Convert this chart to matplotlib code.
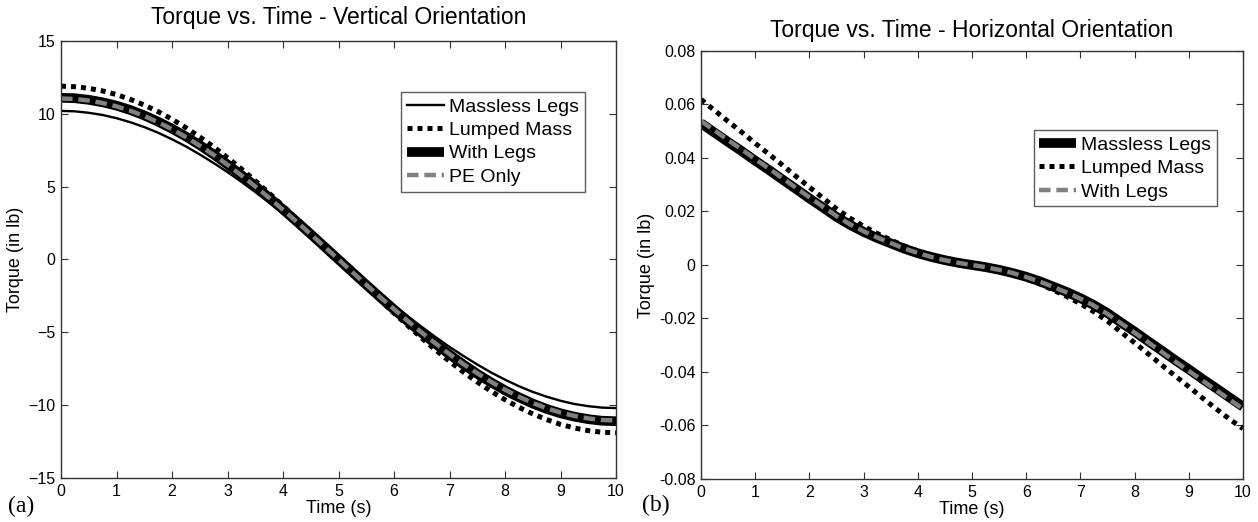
import matplotlib
matplotlib.use("Agg")
import matplotlib.pyplot as plt
from matplotlib.ticker import FuncFormatter

plt.rcParams['font.family'] = ['Liberation Sans', 'DejaVu Sans']

# time samples (s)
time_s = [0.0, 0.25, 0.5, 0.75, 1.0, 1.25, 1.5, 1.75, 2.0, 2.25, 2.5, 2.75, 3.0, 3.25, 3.5, 3.75,
          4.0, 4.25, 4.5, 4.75, 5.0, 5.25, 5.5, 5.75, 6.0, 6.25, 6.5, 6.75, 7.0, 7.25, 7.5, 7.75,
          8.0, 8.25, 8.5, 8.75, 9.0, 9.25, 9.5, 9.75, 10.0]

# Vertical orientation (in lb)
vert_massless = [10.20, 10.17, 10.07, 9.92, 9.70, 9.42, 9.09, 8.70, 8.25, 7.76, 7.21, 6.62, 6.00, 5.33,
                 4.63, 3.90, 3.15, 2.38, 1.60, 0.80, 0.0, -0.80, -1.60, -2.38, -3.15, -3.90, -4.63,
                 -5.33, -6.00, -6.62, -7.21, -7.76, -8.25, -8.70, -9.09, -9.42, -9.70, -9.92, -10.07,
                 -10.17, -10.20]
vert_lumped = [11.90, 11.86, 11.75, 11.57, 11.32, 10.99, 10.60, 10.15, 9.63, 9.05, 8.41, 7.73, 6.99, 6.22,
               5.40, 4.55, 3.68, 2.78, 1.86, 0.93, 0.0, -0.93, -1.86, -2.78, -3.68, -4.55, -5.40,
               -6.22, -6.99, -7.73, -8.41, -9.05, -9.63, -10.15, -10.60, -10.99, -11.32, -11.57, -11.75,
               -11.86, -11.90]
vert_withlegs = [11.10, 11.07, 10.96, 10.79, 10.56, 10.26, 9.89, 9.46, 8.98, 8.44, 7.85, 7.21, 6.52, 5.80,
                 5.04, 4.25, 3.43, 2.59, 1.74, 0.87, 0.0, -0.87, -1.74, -2.59, -3.43, -4.25, -5.04,
                 -5.80, -6.52, -7.21, -7.85, -8.44, -8.98, -9.46, -9.89, -10.26, -10.56, -10.79, -10.96,
                 -11.07, -11.10]
vert_pe = [11.05, 11.02, 10.91, 10.74, 10.51, 10.21, 9.85, 9.42, 8.94, 8.40, 7.81, 7.18, 6.50, 5.77,
           5.02, 4.23, 3.41, 2.58, 1.73, 0.87, 0.0, -0.87, -1.73, -2.58, -3.41, -4.23, -5.02,
           -5.77, -6.50, -7.18, -7.81, -8.40, -8.94, -9.42, -9.85, -10.21, -10.51, -10.74, -10.91,
           -11.02, -11.05]

# Horizontal orientation (in lb)
horz_massless = [0.0530, 0.0495, 0.0460, 0.0426, 0.0390, 0.0356, 0.0320, 0.0285, 0.0249, 0.0215, 0.0180,
                 0.0150, 0.0124, 0.0101, 0.0081, 0.0061, 0.0044, 0.0030, 0.0018, 0.0008, 0.0,
                 -0.0008, -0.0018, -0.0030, -0.0044, -0.0061, -0.0081, -0.0101, -0.0124, -0.0150,
                 -0.0180, -0.0215, -0.0249, -0.0285, -0.0320, -0.0356, -0.0390, -0.0426, -0.0460,
                 -0.0495, -0.0530]
horz_lumped = [0.0619, 0.0578, 0.0537, 0.0497, 0.0455, 0.0415, 0.0374, 0.0332, 0.0291, 0.0251, 0.0210,
               0.0175, 0.0145, 0.0118, 0.0094, 0.0071, 0.0052, 0.0035, 0.0021, 0.0009, 0.0,
               -0.0009, -0.0021, -0.0035, -0.0052, -0.0071, -0.0094, -0.0118, -0.0145, -0.0175,
               -0.0210, -0.0251, -0.0291, -0.0332, -0.0374, -0.0415, -0.0455, -0.0497, -0.0537,
               -0.0576, -0.0612]
horz_withlegs = [0.0538, 0.0503, 0.0467, 0.0432, 0.0396, 0.0361, 0.0325, 0.0289, 0.0253, 0.0218, 0.0183,
                 0.0152, 0.0126, 0.0103, 0.0082, 0.0062, 0.0045, 0.0030, 0.0018, 0.0008, 0.0,
                 -0.0008, -0.0018, -0.0030, -0.0045, -0.0062, -0.0082, -0.0103, -0.0126, -0.0152,
                 -0.0183, -0.0218, -0.0253, -0.0289, -0.0325, -0.0361, -0.0396, -0.0432, -0.0467,
                 -0.0503, -0.0538]

titles = ["Torque vs. Time - Vertical Orientation", "Torque vs. Time - Horizontal Orientation"]
xlabel = "Time (s)"
ylabel = "Torque (in lb)"
vert_labels = ['Massless Legs', 'Lumped Mass', 'With Legs', 'PE Only']
horz_labels = ['Massless Legs', 'Lumped Mass', 'With Legs']

GRAY = "#808080"
DOTS = (0, (1, 1))
DASH = (0, (2.6, 1.3))

fig = plt.figure(figsize=(12.58, 5.22), dpi=100)
axL = fig.add_axes([0.0485, 0.0843, 0.4412, 0.8372])
axR = fig.add_axes([0.5572, 0.0824, 0.4309, 0.8199])


def style(ax):
    ax.tick_params(direction='in', top=True, right=True, labelsize=11.5, length=5, width=0.8,
                   colors='#333333', labelcolor='black', pad=4)
    for s in ax.spines.values():
        s.set_color('#333333')
        s.set_linewidth(1.0)


def legend(ax, anchor):
    leg = ax.legend(loc='upper right', bbox_to_anchor=anchor, fontsize=14, frameon=True,
                    fancybox=False, edgecolor='#333333', handlelength=1.9, borderpad=0.3,
                    labelspacing=0.3, handletextpad=0.25, borderaxespad=0)
    leg.get_frame().set_linewidth(1.0)
    return leg


# left
axL.plot(time_s, vert_massless, color='black', lw=1.7, label=vert_labels[0])
axL.plot(time_s, vert_lumped, color='black', lw=3.6, linestyle=DOTS, label=vert_labels[1])
axL.plot(time_s, vert_withlegs, color='black', lw=7.0, label=vert_labels[2], solid_capstyle='butt')
axL.plot(time_s, vert_pe, color=GRAY, lw=3.2, linestyle=DASH, label=vert_labels[3])
axL.set_xlim(0, 10)
axL.set_ylim(-15, 15)
axL.set_xticks(range(0, 11))
axL.set_yticks([-15, -10, -5, 0, 5, 10, 15])
axL.set_title(titles[0], fontsize=16.5, pad=12)
axL.set_xlabel(xlabel, fontsize=13, labelpad=1)
axL.set_ylabel(ylabel, fontsize=13, labelpad=3)
style(axL)
legend(axL, (0.944, 0.883))

# right
axR.plot(time_s, horz_massless, color='black', lw=7.0, label=horz_labels[0], solid_capstyle='butt')
axR.plot(time_s, horz_lumped, color='black', lw=3.6, linestyle=DOTS, label=horz_labels[1])
axR.plot(time_s, horz_withlegs, color=GRAY, lw=3.2, linestyle=DASH, label=horz_labels[2])
axR.set_xlim(0, 10)
axR.set_ylim(-0.08, 0.08)
axR.set_xticks(range(0, 11))
axR.set_yticks([-0.08, -0.06, -0.04, -0.02, 0, 0.02, 0.04, 0.06, 0.08])
axR.yaxis.set_major_formatter(FuncFormatter(lambda v, p: "0" if abs(v) < 1e-9 else f"{v:.2f}"))
axR.set_title(titles[1], fontsize=16.5, pad=10)
axR.set_xlabel(xlabel, fontsize=13, labelpad=1)
axR.set_ylabel(ylabel, fontsize=13, labelpad=3)
style(axR)
legend(axR, (0.952, 0.815))

fig.text(8 / 1258, 1 - 506 / 522, "(a)", family=['Liberation Serif', 'DejaVu Serif'], fontsize=17,
         va='center', ha='left')
fig.text(642 / 1258, 1 - 505 / 522, "(b)", family=['Liberation Serif', 'DejaVu Serif'], fontsize=17,
         va='center', ha='left')

fig.savefig("out.png", dpi=100)
